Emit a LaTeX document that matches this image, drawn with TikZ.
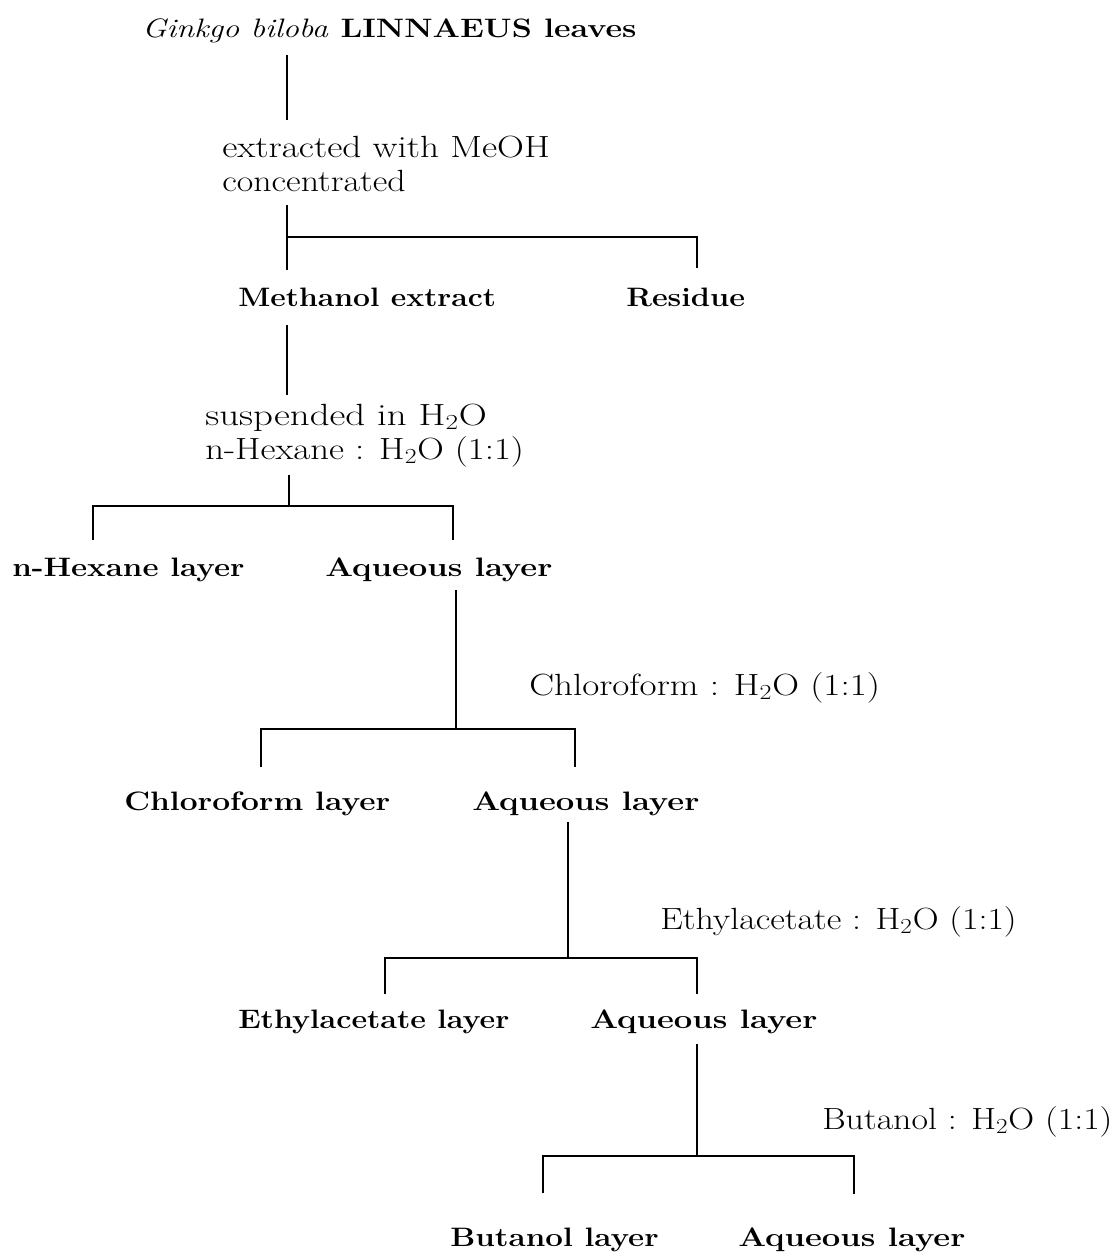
\documentclass[tikz,border=0pt]{standalone}
\usepackage{fontspec}
\usepackage{graphicx}
\newcommand\sx[2]{\scalebox{#1}[1]{#2}}
\begin{document}
\begin{tikzpicture}[x=0.75pt,y=-0.75pt,
  lbl/.style={anchor=base west,inner sep=0pt,font=\fontsize{23}{27}\selectfont},
  bl/.style={anchor=base west,inner sep=0pt,font=\fontsize{20}{24}\selectfont\bfseries},
  ln/.style={line width=2.2pt}]
\useasboundingbox (0,0) rectangle (1118,1256);
% texts
\node[bl] (top) at (142,38) {\sx{1.21}{\textit{\mdseries Ginkgo biloba} LINNAEUS leaves}};
\node[lbl] (s1) at (222,157) {\sx{1.215}{extracted with MeOH}};
\node[lbl] (s1b) at (222,191) {\sx{1.17}{concentrated}};
\node[bl] (meth) at (238,306) {\sx{1.13}{Methanol extract}};
\node[bl] (res) at (626,306) {\sx{1.15}{Residue}};
\node[lbl] (s2) at (205,425) {\sx{1.27}{suspended in H\textsubscript{2}O}};
\node[lbl] (s2b) at (205,459) {\sx{1.2}{n-Hexane : H\textsubscript{2}O (1:1)}};
\node[bl] (hex) at (12,576) {\sx{1.175}{n-Hexane layer}};
\node[bl] (aq1) at (325,576) {\sx{1.23}{Aqueous layer}};
\node[lbl] (s3) at (529,695) {\sx{1.21}{Chloroform : H\textsubscript{2}O (1:1)}};
\node[bl] (chl) at (124,810) {\sx{1.19}{Chloroform layer}};
\node[bl] (aq2) at (472,810) {\sx{1.23}{Aqueous layer}};
\node[lbl] (s4) at (660,929) {\sx{1.17}{Ethylacetate : H\textsubscript{2}O (1:1)}};
\node[bl] (eth) at (238,1028) {\sx{1.14}{Ethylacetate layer}};
\node[bl] (aq3) at (590,1028) {\sx{1.23}{Aqueous layer}};
\node[lbl] (s5) at (822,1129) {\sx{1.17}{Butanol : H\textsubscript{2}O (1:1)}};
\node[bl] (but) at (450,1246) {\sx{1.175}{Butanol layer}};
\node[bl] (aq4) at (738,1246) {\sx{1.23}{Aqueous layer}};
% coordinates
\coordinate (a0) at (287,55); \coordinate (a1) at (287,120);
\coordinate (b0) at (287,205); \coordinate (b1) at (287,270);
\coordinate (br) at (697,237); \coordinate (br1) at (697,268);
\coordinate (c0) at (287,325); \coordinate (c1) at (287,395);
\coordinate (d0) at (289,475); \coordinate (d1) at (289,506);
\coordinate (dl) at (93,506); \coordinate (dl1) at (93,540);
\coordinate (dr) at (453,506); \coordinate (dr1) at (453,540);
\coordinate (e0) at (456,590); \coordinate (e1) at (456,729);
\coordinate (el) at (261,729); \coordinate (el1) at (261,767);
\coordinate (er) at (575,729); \coordinate (er1) at (575,767);
\coordinate (f0) at (568,822); \coordinate (f1) at (568,958);
\coordinate (fl) at (385,958); \coordinate (fl1) at (385,994);
\coordinate (fr) at (697,958); \coordinate (fr1) at (697,994);
\coordinate (g0) at (697,1044); \coordinate (g1) at (697,1156);
\coordinate (gl) at (543,1156); \coordinate (gl1) at (543,1193);
\coordinate (gr) at (854,1156); \coordinate (gr1) at (854,1194);
% lines
\draw[ln] (a0) -- (a1);
\draw[ln] (b0) -- (b1);
\draw[ln] (b0 |- br) -- (br) -- (br1);
\draw[ln] (c0) -- (c1);
\draw[ln] (d0) -- (d1);
\draw[ln] (dl1) -- (dl) -- (dr) -- (dr1);
\draw[ln] (e0) -- (e1);
\draw[ln] (el1) -- (el) -- (er) -- (er1);
\draw[ln] (f0) -- (f1);
\draw[ln] (fl1) -- (fl) -- (fr) -- (fr1);
\draw[ln] (g0) -- (g1);
\draw[ln] (gl1) -- (gl) -- (gr) -- (gr1);
\end{tikzpicture}
\end{document}
